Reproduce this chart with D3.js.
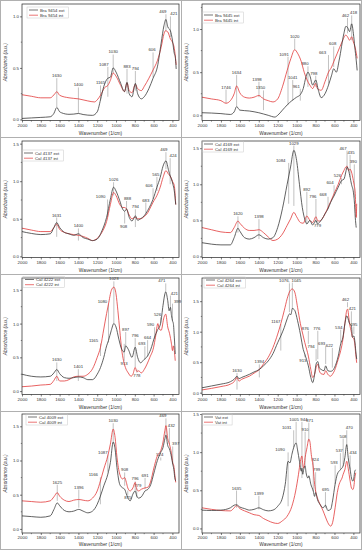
<!DOCTYPE html>
<html><head><meta charset="utf-8">
<script src="https://cdn.jsdelivr.net/npm/d3@7"></script>
<style>body{margin:0;background:#fff}svg{display:block}text{font-family:"Liberation Sans",Arial,sans-serif;fill:#333}</style>
</head><body><svg id="c" width="362" height="550"></svg>
<script>
// ---------- DATA ----------
const xTickValues = [2000,1800,1600,1400,1200,1000,800,600,400];
const xTitle = "Wavenumber (1/cm)";
const yTitle = "Absorbance (a.u.)";

// series: [wavenumber, absorbance]; peaks: [label, label absorbance, line end absorbance, label shift px]
const p1Names = ["Bra 9454 ext","Bra 9454 int"];
const p1Ext = [[2000,0.01],[1900,0.015],[1800,0.02],[1700,0.026],[1660,0.06],[1630,0.116],[1600,0.075],[1580,0.065],[1500,0.05],[1450,0.052],[1400,0.058],[1350,0.048],[1300,0.042],[1250,0.04],[1200,0.074],[1165,0.19],[1130,0.32],[1087,0.40],[1060,0.41],[1030,0.50],[1000,0.46],[950,0.35],[910,0.27],[883,0.36],[860,0.25],[830,0.22],[794,0.35],[770,0.25],[730,0.20],[700,0.22],[650,0.30],[606,0.40],[560,0.51],[520,0.74],[490,0.91],[469,0.97],[450,0.90],[421,0.86],[400,0.77],[380,0.64],[370,0.61],[360,0.49]];
const p1Int = [[2000,0.24],[1900,0.225],[1800,0.21],[1700,0.21],[1650,0.25],[1630,0.27],[1600,0.235],[1500,0.21],[1400,0.20],[1300,0.18],[1230,0.17],[1200,0.19],[1165,0.235],[1120,0.31],[1087,0.33],[1060,0.38],[1030,0.45],[1000,0.42],[950,0.33],[910,0.27],[883,0.355],[860,0.28],[830,0.26],[794,0.34],[770,0.30],[730,0.28],[700,0.32],[650,0.40],[606,0.48],[560,0.57],[520,0.70],[490,0.83],[475,0.86],[450,0.85],[421,0.78],[400,0.75],[380,0.69],[360,0.53]];
const p1Peaks = [["1630",0.41,0.12,0],["1400",0.32,0.06,0],["1165",0.34,0.19,0],["1087",0.52,0.22,-4],["1030",0.64,0.45,0],["883",0.50,0.25,0],["794",0.48,0.28,0],["606",0.66,0.41,-1],["469",1.03,0.86,-3],["421",1.01,0.80,3.5]];

const p2Names = ["Bra 9445 ext","Bra 9445 int"];
const p2Ext = [[2000,0.03],[1800,0.02],[1700,0.01],[1660,0.04],[1634,0.10],[1600,0.06],[1500,0.05],[1400,0.03],[1300,0.0],[1230,-0.02],[1200,0.0],[1150,0.06],[1100,0.12],[1050,0.17],[1000,0.21],[961,0.24],[930,0.31],[900,0.45],[880,0.50],[860,0.46],[830,0.35],[798,0.41],[770,0.29],[740,0.205],[700,0.25],[663,0.35],[630,0.465],[608,0.54],[580,0.50],[550,0.64],[500,0.95],[480,1.03],[462,1.02],[440,0.97],[418,1.06],[400,0.95],[385,0.79],[370,0.64],[360,0.52]];
const p2Int = [[2000,0.21],[1900,0.19],[1800,0.17],[1746,0.14],[1700,0.17],[1660,0.25],[1634,0.34],[1600,0.26],[1550,0.21],[1500,0.20],[1450,0.21],[1398,0.23],[1350,0.19],[1300,0.17],[1250,0.155],[1200,0.19],[1150,0.33],[1100,0.52],[1060,0.66],[1020,0.76],[990,0.72],[950,0.62],[920,0.50],[890,0.41],[860,0.35],[830,0.31],[800,0.37],[780,0.31],[740,0.29],[700,0.39],[663,0.50],[630,0.56],[608,0.62],[570,0.72],[520,0.85],[480,0.93],[462,0.91],[440,0.87],[418,0.91],[400,0.85],[380,0.78],[360,0.66]];
const p2Peaks = [["1746",0.31,0.14,0],["1634",0.48,0.10,0],["1398",0.40,0.21,-2],["1350",0.30,0.06,-3],["1091",0.69,0.12,-4],["1041",0.42,0.17,0],["1020",0.90,0.76,0],["961",0.32,0.17,-4],["880",0.58,0.33,-3],["798",0.47,0.33,-2],["663",0.71,0.37,-6],["608",0.81,0.56,-1],["462",1.14,0.95,-2],["418",1.17,0.87,2]];

const p3Names = ["Cal 4137 ext","Cal 4137 int"];
const p3Ext = [[2000,0.33],[1900,0.305],[1800,0.29],[1700,0.30],[1660,0.385],[1631,0.45],[1600,0.385],[1550,0.32],[1500,0.30],[1450,0.28],[1400,0.30],[1350,0.25],[1300,0.23],[1250,0.21],[1200,0.23],[1150,0.34],[1100,0.52],[1060,0.76],[1026,0.92],[1000,0.87],[960,0.74],[930,0.63],[908,0.60],[888,0.63],[860,0.52],[830,0.47],[794,0.54],[770,0.48],[740,0.50],[700,0.54],[663,0.61],[630,0.69],[606,0.76],[565,0.92],[530,1.05],[500,1.20],[469,1.27],[440,1.14],[424,1.07],[410,1.03],[395,0.96],[380,0.87],[365,0.69]];
const p3Int = [[2000,0.375],[1900,0.35],[1800,0.33],[1700,0.33],[1660,0.385],[1631,0.43],[1600,0.36],[1550,0.32],[1500,0.30],[1400,0.28],[1350,0.265],[1300,0.24],[1250,0.21],[1200,0.24],[1150,0.32],[1100,0.465],[1060,0.69],[1026,0.85],[1000,0.81],[960,0.69],[930,0.65],[908,0.65],[888,0.63],[860,0.55],[830,0.50],[794,0.52],[770,0.50],[740,0.50],[700,0.53],[663,0.58],[630,0.66],[606,0.72],[565,0.81],[530,0.92],[500,1.05],[469,1.14],[440,1.09],[424,1.07],[400,1.00],[380,0.94],[365,0.69]];
const p3Peaks = [["1631",0.53,0.26,0],["1400",0.385,0.21,0],["1090",0.77,0.52,-7],["1026",1.00,0.81,0],["908",0.38,0.60,-1],["888",0.75,0.63,1],["794",0.64,0.39,0],["683",0.73,0.56,0],["606",0.92,0.76,-4],["565",1.07,0.87,-1],["469",1.40,1.16,-2],["424",1.32,0.96,3]];

const p4Names = ["Cal 4169 ext","Cal 4169 int"];
const p4Ext = [[2000,0.19],[1900,0.17],[1800,0.16],[1700,0.16],[1660,0.26],[1620,0.39],[1600,0.35],[1550,0.26],[1500,0.24],[1450,0.26],[1398,0.30],[1350,0.26],[1300,0.24],[1250,0.26],[1200,0.40],[1150,0.66],[1100,1.00],[1064,1.24],[1029,1.47],[1000,1.33],[970,1.00],[940,0.68],[910,0.50],[892,0.45],[860,0.50],[830,0.435],[796,0.50],[779,0.45],[760,0.47],[730,0.52],[700,0.59],[668,0.66],[640,0.75],[604,0.84],[560,0.96],[526,1.05],[500,1.07],[480,1.17],[467,1.24],[450,1.19],[435,1.10],[420,1.00],[400,0.89],[390,0.77],[380,0.54],[370,0.40]];
const p4Int = [[2000,0.40],[1900,0.37],[1800,0.34],[1700,0.33],[1660,0.40],[1620,0.49],[1600,0.46],[1550,0.39],[1500,0.36],[1450,0.36],[1398,0.37],[1350,0.33],[1300,0.27],[1250,0.22],[1200,0.24],[1150,0.31],[1100,0.43],[1064,0.52],[1029,0.61],[1000,0.55],[960,0.47],[930,0.46],[892,0.56],[860,0.50],[830,0.47],[796,0.55],[779,0.50],[760,0.49],[730,0.52],[700,0.59],[668,0.68],[640,0.76],[604,0.87],[560,1.00],[526,1.12],[500,1.19],[480,1.24],[467,1.25],[450,1.19],[435,1.21],[420,1.17],[400,1.05],[390,0.98],[380,0.87],[370,0.54],[365,0.73]];
const p4Peaks = [["1620",0.57,0.33,0],["1398",0.53,0.24,0],["1084",1.31,0.73,-8],["1029",1.55,0.70,0],["892",0.91,0.45,0],["796",0.81,0.47,-3],["779",0.41,0.50,0],["668",0.84,0.66,-5],["604",1.00,0.84,-4],["526",1.10,1.00,-4],["467",1.48,1.24,-4],["435",1.42,1.10,1],["390",1.29,0.82,-1]];

const p5Names = ["Cal 4222 ext","Cal 4222 int"];
const p5Ext = [[2000,0.25],[1900,0.22],[1800,0.21],[1700,0.22],[1660,0.27],[1630,0.32],[1600,0.26],[1550,0.20],[1500,0.19],[1450,0.20],[1401,0.21],[1350,0.20],[1300,0.17],[1250,0.17],[1200,0.25],[1165,0.35],[1130,0.50],[1100,0.67],[1080,0.75],[1050,0.90],[1023,1.00],[1000,0.95],[970,0.77],[940,0.62],[913,0.58],[897,0.67],[870,0.62],[830,0.50],[796,0.65],[770,0.50],[740,0.42],[700,0.47],[664,0.52],[630,0.62],[590,0.80],[560,0.90],[526,1.00],[500,1.27],[480,1.44],[471,1.47],[450,1.34],[435,1.19],[421,1.24],[410,1.12],[399,1.04],[390,1.00],[380,0.80],[370,0.55]];
const p5Int = [[2000,0.065],[1900,0.075],[1800,0.09],[1700,0.10],[1660,0.16],[1630,0.22],[1600,0.15],[1550,0.15],[1500,0.17],[1450,0.21],[1401,0.22],[1350,0.22],[1300,0.25],[1250,0.33],[1200,0.50],[1165,0.65],[1130,0.92],[1100,1.15],[1080,1.29],[1050,1.49],[1023,1.54],[1000,1.44],[980,1.19],[960,0.90],[940,0.62],[920,0.45],[900,0.35],[870,0.27],[840,0.22],[820,0.25],[796,0.35],[778,0.29],[760,0.30],[730,0.27],[700,0.32],[670,0.40],[640,0.50],[600,0.65],[580,0.80],[555,1.00],[540,0.92],[520,0.90],[490,1.09],[471,1.14],[450,0.95],[430,0.85],[410,0.70],[399,0.60],[390,0.67],[380,0.60],[370,0.45]];
const p5Peaks = [["1630",0.44,0.15,0],["1401",0.34,0.15,0],["1165",0.72,0.52,-7],["1080",1.30,0.72,-6],["1023",1.64,1.00,0],["913",0.38,0.70,0],["897",0.89,0.67,0],["796",0.80,0.35,0],["778",0.21,0.32,0],["693",0.68,0.47,-3],["664",0.77,0.52,0],["590",0.96,0.77,-4],["526",1.11,1.00,-3],["471",1.61,1.47,-4],["421",1.43,1.19,4],["399",1.31,1.04,5]];

const p6Names = ["Cal 4264 ext","Cal 4264 int"];
const p6Ext = [[2000,0.08],[1900,0.11],[1800,0.14],[1700,0.18],[1660,0.22],[1630,0.27],[1610,0.23],[1580,0.25],[1500,0.30],[1450,0.34],[1394,0.38],[1350,0.44],[1300,0.52],[1250,0.64],[1200,0.82],[1167,0.93],[1130,1.07],[1100,1.21],[1076,1.29],[1060,1.28],[1045,1.38],[1020,1.35],[990,1.18],[960,0.96],[930,0.71],[913,0.63],[876,0.44],[850,0.25],[830,0.165],[810,0.30],[794,0.47],[776,0.51],[760,0.41],[740,0.38],[710,0.36],[693,0.44],[670,0.36],[640,0.35],[622,0.36],[600,0.41],[560,0.60],[534,0.80],[510,0.91],[490,1.13],[470,1.26],[462,1.24],[440,1.13],[421,1.10],[410,0.91],[395,0.93],[385,0.85],[375,0.69],[365,0.55]];
const p6Int = [[2000,0.045],[1900,0.07],[1800,0.10],[1700,0.14],[1660,0.18],[1630,0.25],[1610,0.19],[1580,0.22],[1500,0.27],[1450,0.32],[1394,0.38],[1350,0.47],[1300,0.58],[1250,0.74],[1200,0.96],[1167,1.13],[1130,1.35],[1100,1.54],[1076,1.65],[1045,1.70],[1020,1.65],[990,1.40],[960,1.13],[930,0.93],[913,0.82],[876,0.60],[850,0.38],[830,0.25],[810,0.30],[794,0.41],[776,0.47],[760,0.36],[740,0.31],[710,0.30],[693,0.36],[670,0.30],[640,0.27],[622,0.30],[600,0.36],[560,0.55],[534,0.69],[510,0.88],[490,1.13],[470,1.35],[462,1.37],[440,1.13],[421,0.99],[410,0.91],[395,0.88],[385,0.80],[375,0.63],[365,0.49]];
const p6Peaks = [["1630",0.34,0.05,0],["1394",0.48,0.25,0],["1167",1.14,0.69,-5],["1076,",1.81,1.32,-5],["1045",1.82,1.37,4],["913",0.51,0.63,-2],["876",1.03,0.80,-3],["794",0.73,0.52,-5],["776",1.03,0.55,-1],["693",0.78,0.47,-4],["622",0.75,0.41,-3],["534",1.05,0.82,-2],["462",1.50,1.40,-2],["421",1.35,1.13,1],["395",1.10,0.96,0]];

const p7Names = ["Cal 4009 ext","Cal 4009 int"];
const p7Ext = [[2000,0.19],[1900,0.18],[1800,0.17],[1700,0.19],[1660,0.285],[1625,0.38],[1600,0.34],[1550,0.27],[1500,0.25],[1450,0.26],[1396,0.285],[1350,0.26],[1300,0.235],[1250,0.26],[1200,0.36],[1166,0.48],[1130,0.63],[1087,0.80],[1060,0.97],[1030,1.27],[1010,1.17],[990,0.90],[960,0.65],[930,0.60],[908,0.58],[890,0.51],[875,0.46],[850,0.41],[820,0.51],[796,0.555],[779,0.48],[760,0.45],[730,0.47],[691,0.555],[660,0.58],[630,0.65],[600,0.80],[560,1.00],[524,1.12],[500,1.19],[480,1.32],[469,1.37],[450,1.22],[432,1.17],[410,1.05],[397,0.95],[385,0.87],[375,0.75],[365,0.70]];
const p7Int = [[2000,0.41],[1900,0.40],[1800,0.39],[1700,0.41],[1660,0.47],[1625,0.53],[1600,0.48],[1550,0.42],[1500,0.40],[1450,0.42],[1396,0.43],[1350,0.42],[1300,0.41],[1250,0.45],[1200,0.555],[1166,0.70],[1130,0.875],[1087,1.07],[1060,1.24],[1030,1.46],[1010,1.34],[990,1.05],[960,0.80],[930,0.73],[908,0.75],[890,0.68],[875,0.60],[850,0.555],[820,0.60],[796,0.68],[779,0.58],[760,0.555],[730,0.58],[691,0.60],[660,0.61],[630,0.70],[600,0.875],[560,1.07],[524,1.145],[500,1.27],[480,1.44],[469,1.51],[450,1.32],[432,1.24],[410,1.10],[397,0.97],[385,0.92],[375,0.80],[365,0.68]];
const p7Peaks = [["1625",0.66,0.41,0],["1396",0.59,0.31,0],["1166",0.77,0.36,-7],["1087",1.10,0.83,-5],["1030",1.56,1.24,0],["908",0.84,0.63,0],["875",0.43,0.56,0],["796",0.71,0.56,0],["779",0.61,0.46,1],["691",0.76,0.58,0],["524",1.06,1.00,-1],["469",1.63,1.34,-3],["432",1.49,1.24,2],["397",1.22,0.95,3]];

const p8Names = ["Vat ext","Vat int"];
const p8Ext = [[2000,0.24],[1900,0.235],[1800,0.24],[1700,0.27],[1660,0.305],[1635,0.31],[1600,0.28],[1550,0.26],[1500,0.24],[1450,0.25],[1399,0.27],[1350,0.245],[1300,0.23],[1250,0.24],[1200,0.29],[1150,0.40],[1120,0.58],[1090,0.88],[1070,0.86],[1050,0.97],[1031,1.06],[1005,1.12],[990,1.03],[970,0.88],[950,0.75],[944,0.79],[935,0.71],[925,0.775],[910,0.82],[900,0.73],[880,0.66],[871,0.69],[850,0.58],[824,0.49],[810,0.42],[799,0.47],[780,0.38],[750,0.31],[720,0.27],[695,0.305],[670,0.235],[640,0.25],[620,0.36],[593,0.58],[570,0.71],[537,0.77],[508,0.82],[490,0.93],[470,1.10],[455,0.93],[434,0.77],[420,0.66],[405,0.62],[395,0.66],[385,0.75],[375,0.77]];
const p8Int = [[2000,0.27],[1900,0.25],[1800,0.235],[1700,0.23],[1660,0.27],[1635,0.30],[1600,0.26],[1550,0.23],[1500,0.205],[1450,0.18],[1399,0.17],[1350,0.13],[1300,0.10],[1250,0.075],[1200,0.065],[1150,0.10],[1100,0.16],[1050,0.29],[1010,0.49],[980,0.71],[960,0.88],[944,0.95],[935,0.84],[925,0.79],[910,0.93],[890,1.06],[871,1.17],[860,1.14],[845,0.97],[824,0.79],[810,0.58],[799,0.49],[780,0.40],[750,0.31],[720,0.23],[695,0.15],[670,0.075],[640,0.03],[620,0.075],[593,0.27],[570,0.47],[550,0.58],[537,0.62],[520,0.66],[508,0.71],[490,0.77],[470,0.88],[455,0.79],[434,0.62],[420,0.53],[405,0.51],[395,0.55],[385,0.66],[375,0.73]];
const p8Peaks = [["1635",0.51,0.27,0],["1399",0.44,0.25,0],["1090",1.01,0.29,-8],["1031",1.30,1.06,-7],["1005",1.41,1.12,-2],["944",1.41,0.66,2],["910",1.28,0.82,0],["871",1.40,1.14,1],["824",0.89,0.49,2],["799",0.75,0.47,1],["695",0.49,0.27,0],["593",0.84,0.58,-1],["537",1.00,0.77,-1],["508",1.19,0.82,0],["470",1.30,1.10,2.5],["434",0.97,0.77,3]];

const yDomains = [[-0.01,1.12],[-0.06,1.29],[-0.015,1.535],[-0.015,1.6],[-0.05,1.675],[-0.03,1.88],[-0.06,1.68],[-0.06,1.5]];
const yTickSets = [[0,0.5,1.0],[0,0.5,1.0],[0,0.5,1.0,1.5],[0,0.5,1.0,1.5],[0,0.5,1.0,1.5],[0,0.5,1.0,1.5],[0,0.5,1.0,1.5],[0,0.5,1.0,1.5]];

// ---------- LAYOUT ----------
const panels = [
  {names:p1Names, ext:p1Ext, int:p1Int, peaks:p1Peaks},
  {names:p2Names, ext:p2Ext, int:p2Int, peaks:p2Peaks},
  {names:p3Names, ext:p3Ext, int:p3Int, peaks:p3Peaks},
  {names:p4Names, ext:p4Ext, int:p4Int, peaks:p4Peaks},
  {names:p5Names, ext:p5Ext, int:p5Int, peaks:p5Peaks},
  {names:p6Names, ext:p6Ext, int:p6Int, peaks:p6Peaks},
  {names:p7Names, ext:p7Ext, int:p7Int, peaks:p7Peaks},
  {names:p8Names, ext:p8Ext, int:p8Int, peaks:p8Peaks}
];
const colX = [0,181];
const rowY = [0,137,274,411];
const legendPos = [[29,10],[23,15],[24,16],[23,7],[25,5.5],[25,6],[28,6],[23,6]];
const RED = "#e23a3a", BLK = "#3a3a3a";

const svg = d3.select("#c");

// panel frames
svg.append("rect").attr("x",0.5).attr("y",0.5).attr("width",361).attr("height",549)
  .attr("fill","none").attr("stroke","#b0b0b0").attr("stroke-width",1);
[181].forEach(v=>svg.append("line").attr("x1",v+0.5).attr("x2",v+0.5).attr("y1",0).attr("y2",550).attr("stroke","#b0b0b0"));
[137,274,411].forEach(v=>svg.append("line").attr("x1",0).attr("x2",362).attr("y1",v+0.5).attr("y2",v+0.5).attr("stroke","#b0b0b0"));

panels.forEach((p,i)=>{
  const col = i%2, row = Math.floor(i/2);
  const x0 = colX[col], y0 = rowY[row];
  const L = x0 + (col===0?22:21), R = x0 + 179;
  const T = y0 + (row===3?3:4), B = y0 + (row===3?122:120.5);
  const x = d3.scaleLinear().domain([2000,330]).range([L,R]);
  const y = d3.scaleLinear().domain(yDomains[i]).range([B,T]);
  const g = svg.append("g");

  const cid = "clip"+i;
  svg.append("clipPath").attr("id",cid).append("rect").attr("x",L).attr("y",T).attr("width",R-L).attr("height",B-T);

  // peak annotations
  const pk = g.append("g");
  p.peaks.forEach(d=>{
    const px = x(parseFloat(d[0])), ly = y(d[1]), le = y(d[2]);
    pk.append("text").attr("x",px + (d[3]||0)).attr("y",ly).attr("text-anchor","middle")
      .attr("font-size",4.3).text(d[0]);
    let y1, y2;
    if (d[2] < d[1]) { y1 = ly+1; y2 = le; } else { y1 = ly-4.3; y2 = le; }
    pk.append("line").attr("x1",px).attr("x2",px).attr("y1",y1).attr("y2",y2)
      .attr("stroke","#a8a8a8").attr("stroke-width",0.7);
  });

  // spectra
  const line = d3.line().x(d=>x(d[0])).y(d=>y(d[1])).curve(d3.curveMonotoneX);
  g.append("path").datum(p.int).attr("d",line).attr("fill","none").attr("stroke",RED).attr("stroke-width",0.8).attr("clip-path",`url(#${cid})`);
  g.append("path").datum(p.ext).attr("d",line).attr("fill","none").attr("stroke",BLK).attr("stroke-width",0.8).attr("clip-path",`url(#${cid})`);

  // box
  g.append("rect").attr("x",L).attr("y",T).attr("width",R-L).attr("height",B-T)
    .attr("fill","none").attr("stroke","#222").attr("stroke-width",0.7);

  // x axis
  const xa = g.append("g").attr("transform",`translate(0,${B})`)
    .call(d3.axisBottom(x).tickValues(xTickValues).tickSize(2).tickPadding(1).tickFormat(d3.format("d")));
  xa.select(".domain").remove();
  xa.selectAll("line").attr("stroke","#222").attr("stroke-width",0.6);
  xa.selectAll("text").attr("font-size",4.4).attr("fill","#333").attr("font-family","Liberation Sans, Arial, sans-serif");
  const minorX = d3.range(1900,330,-200);
  g.append("g").selectAll("line").data(minorX).enter().append("line")
    .attr("x1",d=>x(d)).attr("x2",d=>x(d)).attr("y1",B).attr("y2",B+1.2).attr("stroke","#222").attr("stroke-width",0.5);

  // y axis
  const ya = g.append("g").attr("transform",`translate(${L},0)`)
    .call(d3.axisLeft(y).tickValues(yTickSets[i]).tickSize(2).tickPadding(1).tickFormat(d3.format(".1f")));
  ya.select(".domain").remove();
  ya.selectAll("line").attr("stroke","#222").attr("stroke-width",0.6);
  ya.selectAll("text").attr("font-size",4.4).attr("fill","#333").attr("font-family","Liberation Sans, Arial, sans-serif");
  const minorY = d3.range(0.25, yDomains[i][1], 0.5);
  g.append("g").selectAll("line").data(minorY).enter().append("line")
    .attr("x1",L-1.2).attr("x2",L).attr("y1",d=>y(d)).attr("y2",d=>y(d)).attr("stroke","#222").attr("stroke-width",0.5);

  // titles
  g.append("text").attr("x",(L+R)/2).attr("y",y0+135).attr("text-anchor","middle")
    .attr("font-size",4.8).text(xTitle);
  g.append("text").attr("transform",`translate(${x0+7},${(T+B)/2}) rotate(-90)`).attr("text-anchor","middle")
    .attr("font-size",4.8).attr("font-style","italic").text(yTitle);

  // legend
  const lx = x0 + legendPos[i][0], ly = y0 + legendPos[i][1];
  const lg = g.append("g");
  const tw = p.names[0].length*2.3 + 14;
  lg.append("rect").attr("x",lx-2).attr("y",ly-3).attr("width",tw).attr("height",11)
    .attr("fill","none").attr("stroke","#c8c8c8").attr("stroke-width",0.5);
  [BLK,RED].forEach((c,k)=>{
    lg.append("line").attr("x1",lx).attr("x2",lx+9).attr("y1",ly+k*5.2).attr("y2",ly+k*5.2)
      .attr("stroke",c).attr("stroke-width",0.7);
    lg.append("text").attr("x",lx+11).attr("y",ly+k*5.2+1.5).attr("font-size",4.3).text(p.names[k]);
  });
});
</script></body></html>
